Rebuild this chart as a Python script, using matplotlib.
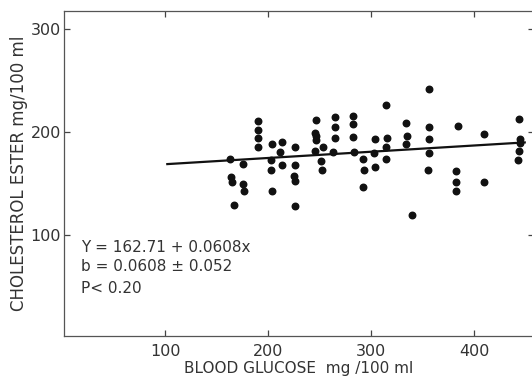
import matplotlib
matplotlib.use('Agg')
import matplotlib.pyplot as plt
import numpy as np
plt.rcParams.update({'font.size': 11, 'font.family': 'DejaVu Sans'})

# blood glucose (mg/100 ml) and cholesterol ester (mg/100 ml)
glucose = [163, 175, 164, 165, 175, 176, 167,
           190, 190, 190, 190, 204, 213, 211, 203, 203, 213, 204,
           226, 226, 225, 226, 226, 246, 245, 246, 246, 245, 253, 251, 252,
           265, 265, 265, 263, 282, 282, 282, 283, 292, 293, 292,
           304, 303, 304, 314, 315, 314, 314, 334, 335, 334, 340,
           356, 356, 356, 356, 355, 384, 382, 382, 382, 409, 409,
           443, 444, 444, 443, 442]
chol_ester = [174, 169, 156, 151, 150, 143, 129,
              211, 202, 194, 186, 188, 190, 181, 173, 163, 168, 143,
              186, 168, 157, 152, 128, 212, 199, 196, 192, 182, 186, 172, 163,
              215, 205, 194, 181, 216, 208, 195, 181, 174, 163, 147,
              193, 180, 166, 226, 194, 186, 174, 209, 196, 188, 119,
              242, 205, 193, 180, 163, 206, 162, 151, 143, 198, 151,
              213, 193, 189, 182, 173]

# regression line
intercept = 162.71
slope = 0.0608
line_x = np.array([102, 449])
line_y = intercept + slope * line_x

fig = plt.figure(figsize=(5.32, 3.82), dpi=100)
ax = fig.add_axes([64/532, 46/382, 470/532, 325/382])

ax.scatter(glucose, chol_ester, s=22, color='#111111', zorder=3)
ax.plot(line_x, line_y, color='#111111', lw=1.6)

ax.set_xlim(1.7, 458)
ax.set_ylim(1.5, 318)
ax.set_xticks([100, 200, 300, 400])
ax.set_yticks([100, 200, 300])
ax.tick_params(direction='in', length=4, width=0.9, color='#444444',
               top=True, right=True, labelsize=11.5, labelcolor='#333333')
ax.tick_params(axis='y', pad=2)
ax.tick_params(axis='x', pad=6)
for sp in ax.spines.values():
    sp.set_color('#555555')
    sp.set_linewidth(0.9)

ax.set_xlabel('BLOOD GLUCOSE  mg /100 ml', fontsize=11, color='#333333', labelpad=1)
ax.set_ylabel('CHOLESTEROL ESTER mg/100 ml', fontsize=12, color='#333333', labelpad=2)

ax.text(18, 88, 'Y = 162.71 + 0.0608x', fontsize=11, color='#333333', va='center')
ax.text(18, 69, 'b = 0.0608 \u00b1 0.052', fontsize=11, color='#333333', va='center')
ax.text(18, 48, 'P< 0.20', fontsize=11, color='#333333', va='center')

fig.savefig('out.png', dpi=100)
